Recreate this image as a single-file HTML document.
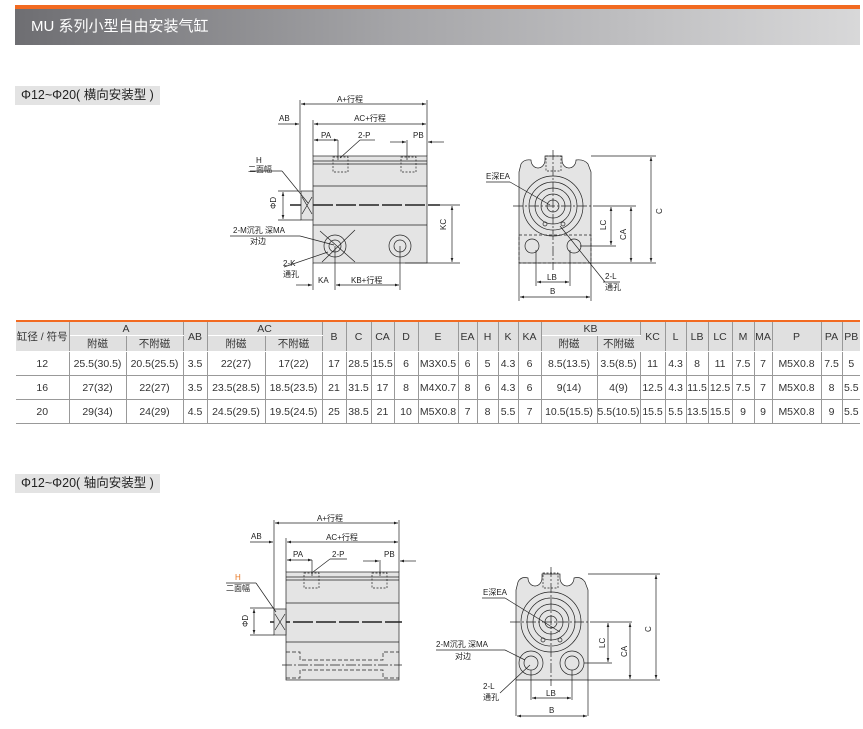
<!DOCTYPE html>
<html><head><meta charset="utf-8"><style>
body{margin:0;width:863px;height:729px;background:#fff;font-family:"Liberation Sans","Noto Sans CJK SC",sans-serif;position:relative;overflow:hidden}
.hdr{position:absolute;left:15px;top:5px;width:845px;height:40px;border-top:4px solid #f26a21;box-sizing:border-box;background:linear-gradient(90deg,#6e6e72,#a5a5a8 45%,#d8d8d9);color:#fff;font-size:15px;line-height:36px;padding-left:16px}
.sub{position:absolute;left:15px;height:19px;background:#e3e3e3;font-size:12.5px;line-height:19px;padding:0 6px;color:#222}
table{position:absolute;left:16px;top:320px;border-collapse:collapse;font-size:10.5px;color:#333;border-top:2px solid #f26a21}
td{border-right:1px solid #999;text-align:center;padding:0;white-space:nowrap}
td:last-child{border-right:none}
tr.h td{background:#e0e0e0;height:13px;border-bottom:1px solid #fff}
tr.d td{height:23px;border-bottom:1px solid #999}
svg{position:absolute;left:0;top:0}
svg text{font-family:"Liberation Sans","Noto Sans CJK SC",sans-serif;font-size:8px;fill:#222}
</style></head><body>
<div class="hdr">MU 系列小型自由安装气缸</div>
<div class="sub" style="top:86px">Φ12~Φ20( 横向安装型 )</div>
<div class="sub" style="top:474px">Φ12~Φ20( 轴向安装型 )</div>

<table>
<colgroup><col style="width:53px"><col style="width:57px"><col style="width:57px"><col style="width:24px"><col style="width:58px"><col style="width:57px"><col style="width:24px"><col style="width:25px"><col style="width:23px"><col style="width:24px"><col style="width:40px"><col style="width:19px"><col style="width:21px"><col style="width:20px"><col style="width:23px"><col style="width:56px"><col style="width:43px"><col style="width:25px"><col style="width:21px"><col style="width:22px"><col style="width:24px"><col style="width:22px"><col style="width:18px"><col style="width:49px"><col style="width:21px"><col style="width:18px"></colgroup>
<tr class="h"><td rowspan="2">缸径 / 符号</td><td colspan="2">A</td><td rowspan="2">AB</td><td colspan="2">AC</td><td rowspan="2">B</td><td rowspan="2">C</td><td rowspan="2">CA</td><td rowspan="2">D</td><td rowspan="2">E</td><td rowspan="2">EA</td><td rowspan="2">H</td><td rowspan="2">K</td><td rowspan="2">KA</td><td colspan="2">KB</td><td rowspan="2">KC</td><td rowspan="2">L</td><td rowspan="2">LB</td><td rowspan="2">LC</td><td rowspan="2">M</td><td rowspan="2">MA</td><td rowspan="2">P</td><td rowspan="2">PA</td><td rowspan="2">PB</td></tr>
<tr class="h"><td>附磁</td><td>不附磁</td><td>附磁</td><td>不附磁</td><td>附磁</td><td>不附磁</td></tr>
<tr class="d"><td>12</td><td>25.5(30.5)</td><td>20.5(25.5)</td><td>3.5</td><td>22(27)</td><td>17(22)</td><td>17</td><td>28.5</td><td>15.5</td><td>6</td><td>M3X0.5</td><td>6</td><td>5</td><td>4.3</td><td>6</td><td>8.5(13.5)</td><td>3.5(8.5)</td><td>11</td><td>4.3</td><td>8</td><td>11</td><td>7.5</td><td>7</td><td>M5X0.8</td><td>7.5</td><td>5</td></tr>
<tr class="d"><td>16</td><td>27(32)</td><td>22(27)</td><td>3.5</td><td>23.5(28.5)</td><td>18.5(23.5)</td><td>21</td><td>31.5</td><td>17</td><td>8</td><td>M4X0.7</td><td>8</td><td>6</td><td>4.3</td><td>6</td><td>9(14)</td><td>4(9)</td><td>12.5</td><td>4.3</td><td>11.5</td><td>12.5</td><td>7.5</td><td>7</td><td>M5X0.8</td><td>8</td><td>5.5</td></tr>
<tr class="d"><td>20</td><td>29(34)</td><td>24(29)</td><td>4.5</td><td>24.5(29.5)</td><td>19.5(24.5)</td><td>25</td><td>38.5</td><td>21</td><td>10</td><td>M5X0.8</td><td>7</td><td>8</td><td>5.5</td><td>7</td><td>10.5(15.5)</td><td>5.5(10.5)</td><td>15.5</td><td>5.5</td><td>13.5</td><td>15.5</td><td>9</td><td>9</td><td>M5X0.8</td><td>9</td><td>5.5</td></tr>
</table>

<svg width="863" height="729" viewBox="0 0 863 729">
<defs><marker id="a" viewBox="0 0 6 6" refX="6" refY="3" markerWidth="6" markerHeight="6" orient="auto-start-reverse"><path d="M0,1L6,3L0,5z" fill="#222"/></marker></defs>
<g stroke="#222" stroke-width="0.7" fill="none">
<!-- TOP SIDE VIEW -->
<rect x="313" y="156" width="114" height="107" fill="#e4e4e4"/>
<line x1="313" y1="161" x2="427" y2="161"/><line x1="313" y1="164" x2="427" y2="164"/>
<line x1="313" y1="186" x2="427" y2="186"/><line x1="313" y1="225" x2="427" y2="225"/>
<line x1="290" y1="205" x2="440" y2="205" stroke-width="1.5" stroke-dasharray="20 3"/>
<rect x="301" y="191" width="12" height="29" fill="#e4e4e4"/>
<path d="M302,197L312,214M312,197L302,214"/>
<rect x="333" y="157" width="15" height="15" stroke-dasharray="2 1.5"/><rect x="401" y="157" width="15" height="15" stroke-dasharray="2 1.5"/>
<circle cx="335" cy="246" r="11"/><circle cx="335" cy="246" r="6"/>
<circle cx="400" cy="246" r="11"/><circle cx="400" cy="246" r="6"/>
<path d="M320,231L355,262M355,230L322,262"/>
<line x1="300" y1="100" x2="300" y2="190"/><line x1="427" y1="100" x2="427" y2="156"/>
<line x1="313" y1="120" x2="313" y2="156"/>
<line x1="301" y1="104" x2="426" y2="104" marker-start="url(#a)" marker-end="url(#a)"/>
<line x1="314" y1="124" x2="426" y2="124" marker-start="url(#a)" marker-end="url(#a)"/>
<line x1="278" y1="124" x2="299" y2="124" marker-end="url(#a)"/>
<line x1="314" y1="140" x2="338" y2="140" marker-start="url(#a)" marker-end="url(#a)"/>
<line x1="338" y1="140" x2="338" y2="160"/><line x1="407" y1="140" x2="407" y2="160"/>
<line x1="390" y1="142" x2="406" y2="142" marker-end="url(#a)"/><line x1="444" y1="142" x2="428" y2="142" marker-end="url(#a)"/>
<line x1="340" y1="158" x2="360" y2="140"/><line x1="360" y1="140" x2="375" y2="140"/>
<line x1="250" y1="171" x2="282" y2="171"/><line x1="282" y1="171" x2="308" y2="203"/>
<line x1="283" y1="192" x2="283" y2="219" marker-start="url(#a)" marker-end="url(#a)"/>
<line x1="278" y1="191" x2="301" y2="191"/><line x1="278" y1="220" x2="301" y2="220"/>
<line x1="430" y1="205" x2="460" y2="205"/><line x1="405" y1="263" x2="460" y2="263"/>
<line x1="452" y1="206" x2="452" y2="262" marker-start="url(#a)" marker-end="url(#a)"/>
<line x1="313" y1="263" x2="313" y2="290"/><line x1="335" y1="246" x2="335" y2="290"/><line x1="400" y1="246" x2="400" y2="290"/>
<line x1="296" y1="285" x2="312" y2="285" marker-end="url(#a)"/>
<line x1="336" y1="285" x2="399" y2="285" marker-start="url(#a)" marker-end="url(#a)"/>
<line x1="230" y1="236" x2="300" y2="236"/><line x1="300" y1="236" x2="334" y2="245"/>
<line x1="284" y1="267" x2="328" y2="252"/>
<!-- TOP FRONT VIEW -->
<path d="M519,172L521,164Q524,159 531,160A7,8 0 0 0 545,160L545,156L562,156L562,160A7,8 0 0 0 576,160Q584,159 588,164L591,172L591,263L519,263Z" fill="#e4e4e4"/>
<circle cx="553" cy="206" r="30"/><circle cx="553" cy="206" r="24"/><circle cx="553" cy="206" r="18"/><circle cx="553" cy="206" r="12"/><circle cx="553" cy="206" r="6"/>
<circle cx="545" cy="224" r="2"/><circle cx="563" cy="224" r="2"/>
<rect x="546" y="156" width="15" height="15" stroke-dasharray="2 1.5"/>
<rect x="519" y="235" width="72" height="28" stroke-dasharray="3 2"/>
<circle cx="532" cy="246" r="7"/><circle cx="574" cy="246" r="7"/>
<line x1="513" y1="206" x2="595" y2="206" stroke-dasharray="10 2 2 2"/>
<line x1="553" y1="150" x2="553" y2="270" stroke-dasharray="10 2 2 2"/>
<line x1="486" y1="182" x2="510" y2="182"/><line x1="510" y1="182" x2="550" y2="205"/>
<line x1="560" y1="226" x2="605" y2="282"/>
<line x1="591" y1="156" x2="656" y2="156"/><line x1="591" y1="263" x2="656" y2="263"/><line x1="595" y1="206" x2="636" y2="206"/><line x1="580" y1="246" x2="616" y2="246"/>
<line x1="651" y1="157" x2="651" y2="262" marker-start="url(#a)" marker-end="url(#a)"/>
<line x1="631" y1="207" x2="631" y2="262" marker-start="url(#a)" marker-end="url(#a)"/>
<line x1="611" y1="207" x2="611" y2="245" marker-start="url(#a)" marker-end="url(#a)"/>
<line x1="519" y1="263" x2="519" y2="301"/><line x1="591" y1="263" x2="591" y2="301"/><line x1="536" y1="250" x2="536" y2="286"/><line x1="570" y1="250" x2="570" y2="286"/>
<line x1="537" y1="282" x2="569" y2="282" marker-start="url(#a)" marker-end="url(#a)"/>
<line x1="520" y1="297" x2="590" y2="297" marker-start="url(#a)" marker-end="url(#a)"/>
<line x1="603" y1="282" x2="620" y2="282"/>
<!-- BOTTOM SIDE VIEW -->
<rect x="286" y="572" width="113" height="108" fill="#e4e4e4"/>
<line x1="286" y1="577" x2="399" y2="577"/><line x1="286" y1="580" x2="399" y2="580"/>
<line x1="286" y1="603" x2="399" y2="603"/><line x1="286" y1="642" x2="399" y2="642"/>
<line x1="270" y1="622" x2="402" y2="622" stroke-width="1.5" stroke-dasharray="20 3"/>
<rect x="274" y="609" width="12" height="26" fill="#e4e4e4"/>
<path d="M275,614L285,630M285,614L275,630"/>
<rect x="304" y="573" width="15" height="15" stroke-dasharray="2 1.5"/><rect x="372" y="573" width="15" height="15" stroke-dasharray="2 1.5"/>
<path d="M286,652L300,652L300,660L383,660L383,652L399,652M286,678L300,678L300,670L383,670L383,678L399,678" stroke-dasharray="4 2"/>
<line x1="282" y1="665" x2="402" y2="665" stroke-dasharray="10 2 2 2"/>
<line x1="274" y1="520" x2="274" y2="609"/><line x1="399" y1="520" x2="399" y2="572"/><line x1="286" y1="538" x2="286" y2="572"/>
<line x1="275" y1="523" x2="398" y2="523" marker-start="url(#a)" marker-end="url(#a)"/>
<line x1="287" y1="542" x2="398" y2="542" marker-start="url(#a)" marker-end="url(#a)"/>
<line x1="250" y1="542" x2="273" y2="542" marker-end="url(#a)"/>
<line x1="287" y1="560" x2="312" y2="560" marker-start="url(#a)" marker-end="url(#a)"/>
<line x1="312" y1="560" x2="312" y2="576"/><line x1="380" y1="560" x2="380" y2="576"/>
<line x1="363" y1="561" x2="379" y2="561" marker-end="url(#a)"/><line x1="416" y1="561" x2="400" y2="561" marker-end="url(#a)"/>
<line x1="313" y1="572" x2="330" y2="559"/><line x1="330" y1="559" x2="347" y2="559"/>
<line x1="226" y1="583" x2="256" y2="583"/><line x1="256" y1="583" x2="276" y2="612"/>
<line x1="254" y1="609" x2="254" y2="634" marker-start="url(#a)" marker-end="url(#a)"/>
<line x1="250" y1="608" x2="274" y2="608"/><line x1="250" y1="635" x2="274" y2="635"/>
<!-- BOTTOM FRONT VIEW -->
<path d="M516,590L518,582Q521,576 528,578A7,8 0 0 0 542,578L542,574L560,574L560,578A7,8 0 0 0 574,578Q581,576 585,582L588,590L588,680L516,680Z" fill="#e4e4e4"/>
<circle cx="551" cy="622" r="30"/><circle cx="551" cy="622" r="24"/><circle cx="551" cy="622" r="18"/><circle cx="551" cy="622" r="12"/><circle cx="551" cy="622" r="6"/>
<circle cx="543" cy="640" r="2"/><circle cx="560" cy="640" r="2"/>
<rect x="543" y="573" width="15" height="15" stroke-dasharray="2 1.5"/>
<circle cx="531" cy="663" r="12"/><circle cx="531" cy="663" r="7"/>
<circle cx="572" cy="663" r="12"/><circle cx="572" cy="663" r="7"/>
<line x1="510" y1="622" x2="594" y2="622" stroke-dasharray="10 2 2 2"/>
<line x1="551" y1="567" x2="551" y2="686" stroke-dasharray="10 2 2 2"/>
<line x1="482" y1="598" x2="505" y2="598"/><line x1="505" y1="598" x2="560" y2="632"/>
<line x1="436" y1="650" x2="505" y2="650"/><line x1="505" y1="650" x2="525" y2="660"/>
<line x1="500" y1="693" x2="530" y2="665"/>
<line x1="588" y1="574" x2="660" y2="574"/><line x1="588" y1="680" x2="660" y2="680"/><line x1="594" y1="622" x2="632" y2="622"/><line x1="584" y1="663" x2="612" y2="663"/>
<line x1="656" y1="575" x2="656" y2="679" marker-start="url(#a)" marker-end="url(#a)"/>
<line x1="630" y1="623" x2="630" y2="679" marker-start="url(#a)" marker-end="url(#a)"/>
<line x1="608" y1="623" x2="608" y2="662" marker-start="url(#a)" marker-end="url(#a)"/>
<line x1="516" y1="680" x2="516" y2="716"/><line x1="588" y1="680" x2="588" y2="716"/><line x1="531" y1="670" x2="531" y2="700"/><line x1="572" y1="670" x2="572" y2="700"/>
<line x1="532" y1="698" x2="571" y2="698" marker-start="url(#a)" marker-end="url(#a)"/>
<line x1="517" y1="716" x2="587" y2="716" marker-start="url(#a)" marker-end="url(#a)"/>
</g>
<g>
<text x="350" y="102" text-anchor="middle">A+行程</text>
<text x="370" y="121" text-anchor="middle">AC+行程</text>
<text x="279" y="121">AB</text>
<text x="321" y="138">PA</text><text x="358" y="138">2-P</text><text x="413" y="138">PB</text>
<text x="256" y="163">H</text><text x="248" y="172">二面幅</text>
<text x="0" y="0" transform="translate(276,209) rotate(-90)">ΦD</text>
<text x="233" y="233">2-M沉孔 深MA</text><text x="250" y="244">对边</text>
<text x="283" y="266">2-K</text><text x="283" y="277">通孔</text>
<text x="318" y="283">KA</text><text x="351" y="283">KB+行程</text>
<text x="0" y="0" transform="translate(446,230) rotate(-90)">KC</text>
<text x="486" y="179">E深EA</text>
<text x="547" y="280">LB</text><text x="550" y="294">B</text>
<text x="605" y="279">2-L</text><text x="605" y="290">通孔</text>
<text x="0" y="0" transform="translate(606,230) rotate(-90)">LC</text>
<text x="0" y="0" transform="translate(626,240) rotate(-90)">CA</text>
<text x="0" y="0" transform="translate(662,214) rotate(-90)">C</text>

<text x="330" y="521" text-anchor="middle">A+行程</text>
<text x="342" y="540" text-anchor="middle">AC+行程</text>
<text x="251" y="539">AB</text>
<text x="293" y="557">PA</text><text x="332" y="557">2-P</text><text x="384" y="557">PB</text>
<text x="235" y="580" style="fill:#e87722">H</text><text x="226" y="591">二面幅</text>
<text x="0" y="0" transform="translate(248,627) rotate(-90)">ΦD</text>
<text x="483" y="595">E深EA</text>
<text x="436" y="647">2-M沉孔 深MA</text><text x="455" y="659">对边</text>
<text x="483" y="689">2-L</text><text x="483" y="700">通孔</text>
<text x="546" y="696">LB</text><text x="549" y="713">B</text>
<text x="0" y="0" transform="translate(605,648) rotate(-90)">LC</text>
<text x="0" y="0" transform="translate(627,657) rotate(-90)">CA</text>
<text x="0" y="0" transform="translate(651,632) rotate(-90)">C</text>
</g>
</svg>
</body></html>
